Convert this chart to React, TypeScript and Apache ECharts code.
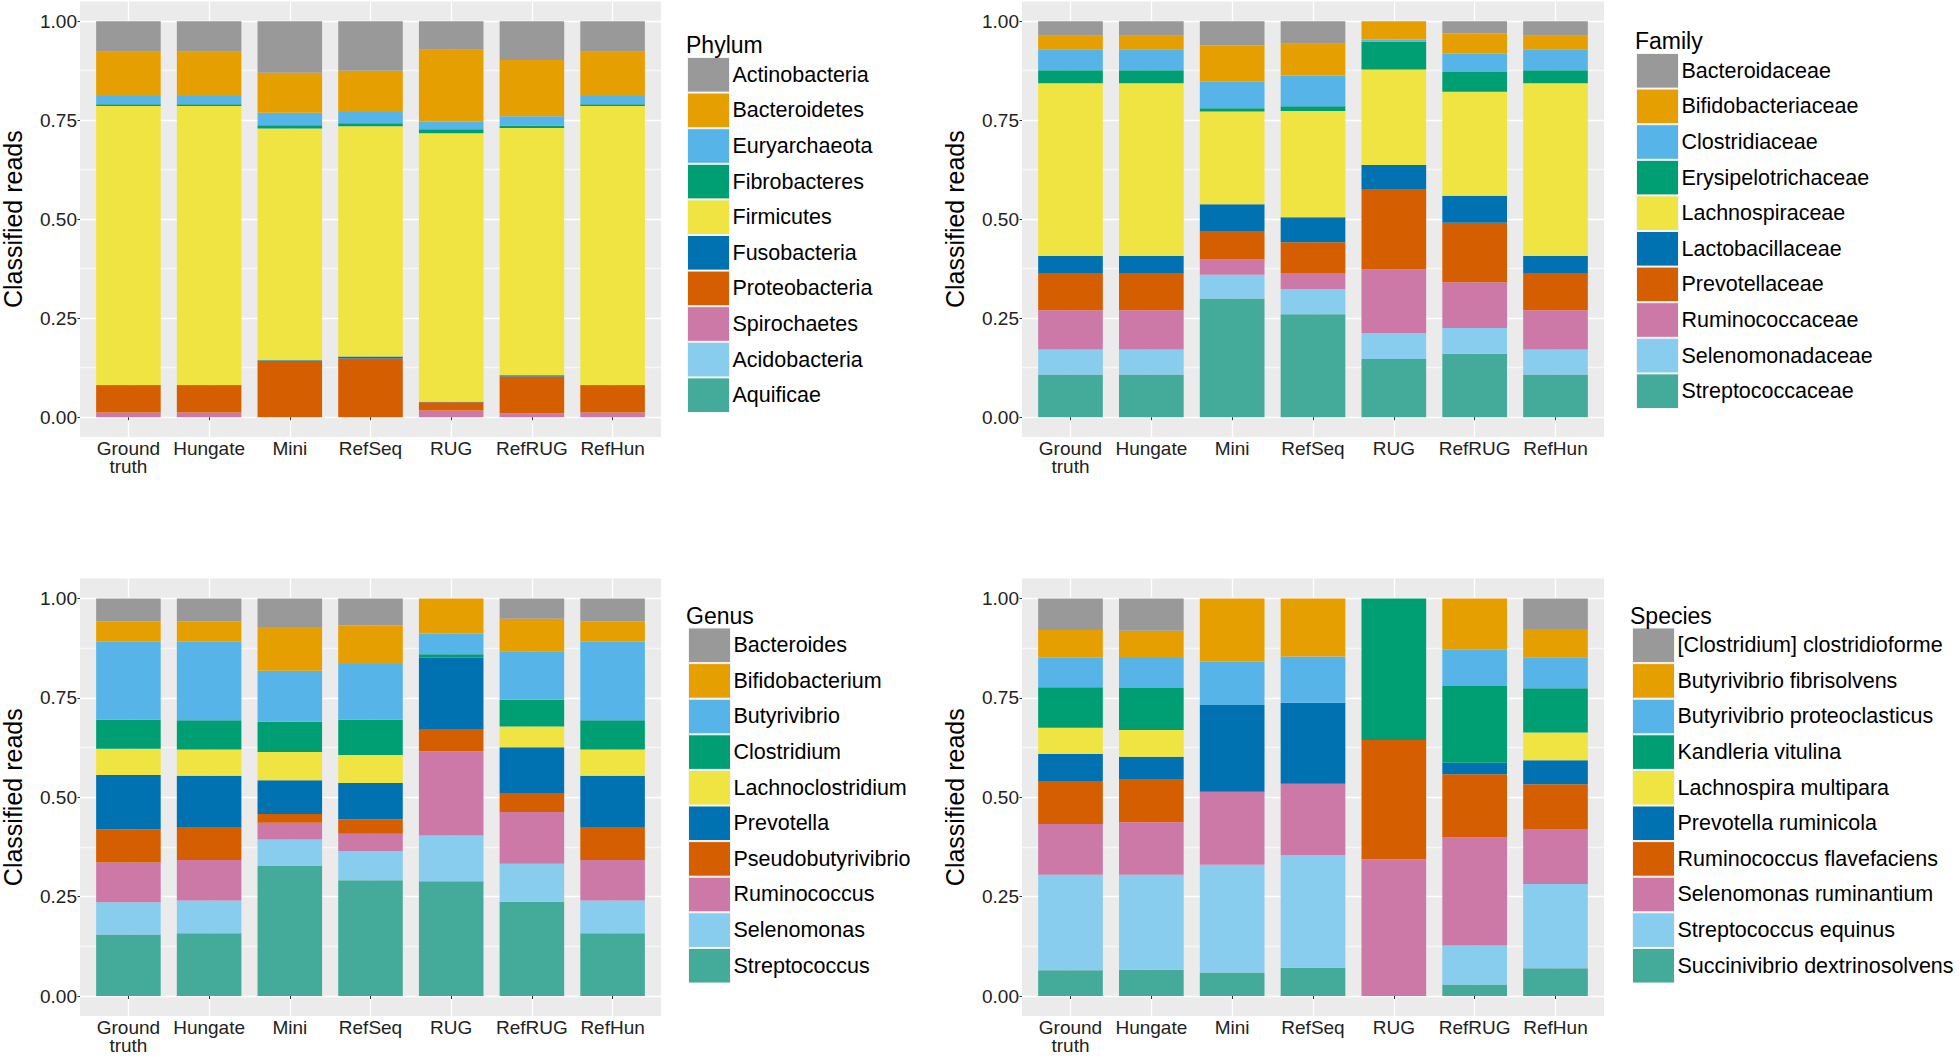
import React, { useEffect, useRef } from "react";
import * as echarts from "echarts";

// ---------- data ----------
const categories = ["Ground\ntruth", "Hungate", "Mini", "RefSeq", "RUG", "RefRUG", "RefHun"];

const palette = ["#999999", "#E69F00", "#56B4E9", "#009E73", "#F0E442", "#0072B2", "#D55E00", "#CC79A7", "#88CCEE", "#44AA99"];

const phylumNames = ["Actinobacteria", "Bacteroidetes", "Euryarchaeota", "Fibrobacteres", "Firmicutes", "Fusobacteria", "Proteobacteria", "Spirochaetes", "Acidobacteria", "Aquificae"];
const phylumValues = [
  [0.077, 0.077, 0.130, 0.125, 0.072, 0.098, 0.077],
  [0.112, 0.112, 0.101, 0.104, 0.182, 0.142, 0.112],
  [0.021, 0.021, 0.032, 0.029, 0.019, 0.024, 0.021],
  [0.004, 0.004, 0.008, 0.007, 0.010, 0.006, 0.004],
  [0.705, 0.705, 0.585, 0.582, 0.678, 0.624, 0.705],
  [0.001, 0.001, 0.004, 0.005, 0.001, 0.003, 0.001],
  [0.068, 0.068, 0.140, 0.148, 0.021, 0.093, 0.068],
  [0.012, 0.012, 0.000, 0.000, 0.017, 0.010, 0.012],
  [0, 0, 0, 0, 0, 0, 0],
  [0, 0, 0, 0, 0, 0, 0],
];

const familyNames = ["Bacteroidaceae", "Bifidobacteriaceae", "Clostridiaceae", "Erysipelotrichaceae", "Lachnospiraceae", "Lactobacillaceae", "Prevotellaceae", "Ruminococcaceae", "Selenomonadaceae", "Streptococcaceae"];
const familyValues = [
  [0.037, 0.037, 0.061, 0.057, 0.000, 0.031, 0.037],
  [0.034, 0.034, 0.092, 0.080, 0.046, 0.051, 0.034],
  [0.053, 0.053, 0.067, 0.078, 0.005, 0.046, 0.053],
  [0.033, 0.033, 0.008, 0.012, 0.071, 0.050, 0.033],
  [0.436, 0.436, 0.234, 0.268, 0.241, 0.263, 0.436],
  [0.045, 0.045, 0.068, 0.063, 0.061, 0.068, 0.045],
  [0.092, 0.092, 0.072, 0.078, 0.203, 0.150, 0.092],
  [0.099, 0.099, 0.038, 0.040, 0.161, 0.116, 0.099],
  [0.063, 0.063, 0.060, 0.064, 0.065, 0.065, 0.063],
  [0.108, 0.108, 0.300, 0.260, 0.147, 0.160, 0.108],
];

const genusNames = ["Bacteroides", "Bifidobacterium", "Butyrivibrio", "Clostridium", "Lachnoclostridium", "Prevotella", "Pseudobutyrivibrio", "Ruminococcus", "Selenomonas", "Streptococcus"];
const genusValues = [
  [0.057, 0.057, 0.072, 0.068, 0.000, 0.051, 0.057],
  [0.052, 0.052, 0.110, 0.097, 0.088, 0.082, 0.052],
  [0.196, 0.197, 0.128, 0.140, 0.052, 0.122, 0.197],
  [0.073, 0.074, 0.076, 0.089, 0.009, 0.067, 0.074],
  [0.066, 0.066, 0.071, 0.070, 0.000, 0.052, 0.066],
  [0.137, 0.129, 0.085, 0.092, 0.181, 0.117, 0.129],
  [0.083, 0.083, 0.022, 0.036, 0.054, 0.046, 0.083],
  [0.100, 0.102, 0.042, 0.044, 0.212, 0.130, 0.102],
  [0.081, 0.082, 0.067, 0.073, 0.115, 0.096, 0.082],
  [0.155, 0.158, 0.327, 0.291, 0.289, 0.237, 0.158],
];

const speciesNames = ["[Clostridium] clostridioforme", "Butyrivibrio fibrisolvens", "Butyrivibrio proteoclasticus", "Kandleria vitulina", "Lachnospira multipara", "Prevotella ruminicola", "Ruminococcus flavefaciens", "Selenomonas ruminantium", "Streptococcus equinus", "Succinivibrio dextrinosolvens"];
const speciesValues = [
  [0.079, 0.081, 0.000, 0.000, 0.000, 0.000, 0.077],
  [0.070, 0.069, 0.159, 0.146, 0.000, 0.128, 0.071],
  [0.074, 0.075, 0.109, 0.116, 0.000, 0.092, 0.078],
  [0.102, 0.106, 0.000, 0.000, 0.356, 0.193, 0.111],
  [0.066, 0.067, 0.000, 0.000, 0.000, 0.000, 0.070],
  [0.070, 0.058, 0.218, 0.204, 0.000, 0.029, 0.060],
  [0.106, 0.107, 0.000, 0.000, 0.300, 0.159, 0.113],
  [0.128, 0.132, 0.184, 0.180, 0.344, 0.272, 0.138],
  [0.240, 0.239, 0.271, 0.283, 0.000, 0.098, 0.212],
  [0.065, 0.066, 0.059, 0.071, 0.000, 0.029, 0.070],
];

// ---------- layout ----------
const FONT = "'Liberation Sans', Arial, Helvetica, sans-serif";
const X_EXPAND = 0.6; // ggplot discrete expansion (category units)
const Y_EXPAND = 0.05; // ggplot continuous expansion (fraction of range)

const panels = [
  { title: "Phylum", names: phylumNames, values: phylumValues, rect: { left: 80, top: 1.4, width: 581, height: 435.6 }, legend: { left: 687, top: 57 }, titlePos: { left: 686, top: 33 } },
  { title: "Family", names: familyNames, values: familyValues, rect: { left: 1022, top: 1.4, width: 582, height: 435.6 }, legend: { left: 1636, top: 53 }, titlePos: { left: 1635, top: 29 } },
  { title: "Genus", names: genusNames, values: genusValues, rect: { left: 80, top: 578.6, width: 581, height: 437.3 }, legend: { left: 688, top: 627.5 }, titlePos: { left: 686, top: 604 } },
  { title: "Species", names: speciesNames, values: speciesValues, rect: { left: 1022, top: 578.6, width: 582, height: 437.3 }, legend: { left: 1632, top: 627.5 }, titlePos: { left: 1630, top: 604 } },
];

const T = "rgba(0,0,0,0)";
const MAJOR = "#FFFFFF";
const MINOR = "rgba(255,255,255,0.6)";

function buildOption() {
  const grid: any[] = [];
  const xAxis: any[] = [];
  const yAxis: any[] = [];
  const series: any[] = [];
  const legend: any[] = [];
  const title: any[] = [];
  const n = categories.length;

  panels.forEach((p, pi) => {
    const r = p.rect;
    // background panel grid (grey + ggplot-style gridlines over expanded range)
    const bgIdx = grid.length;
    grid.push({ ...r, show: true, backgroundColor: "#EBEBEB", borderWidth: 0, containLabel: false, outerBoundsMode: "none" });
    xAxis.push({
      type: "value",
      gridIndex: bgIdx,
      min: -X_EXPAND,
      max: n - 1 + X_EXPAND,
      interval: 0.2,
      axisLine: { show: false },
      axisTick: { show: false },
      axisLabel: { show: false },
      splitLine: { show: true, lineStyle: { color: [T, T, T, MAJOR, T], width: 1.3 } },
    });
    yAxis.push({
      type: "value",
      gridIndex: bgIdx,
      min: -Y_EXPAND,
      max: 1 + Y_EXPAND,
      interval: 0.025,
      axisLine: { show: false },
      axisTick: { show: false },
      axisLabel: { show: false },
      splitLine: { show: true, lineStyle: { color: [T, T, MAJOR, T, T, T, T, MINOR, T, T], width: 1.3 } },
    });

    // data grid: exact category bands, y range 0..1
    const unitX = r.width / (n - 1 + 2 * X_EXPAND);
    const unitY = r.height / (1 + 2 * Y_EXPAND);
    const dLeft = r.left + (X_EXPAND - 0.5) * unitX;
    const dTop = r.top + Y_EXPAND * unitY;
    const gapX = dLeft - r.left;
    const gapY = Y_EXPAND * unitY;
    const dIdx = grid.length;
    grid.push({ left: dLeft, top: dTop, width: unitX * n, height: unitY, show: false, containLabel: false, outerBoundsMode: "none" });
    xAxis.push({
      type: "category",
      gridIndex: dIdx,
      data: categories,
      offset: gapY,
      axisLine: { show: false },
      axisTick: { show: true, alignWithLabel: true, interval: 0, length: 3, lineStyle: { color: "#333", width: 1 } },
      splitLine: { show: false },
      axisLabel: {
        margin: 2,
        fontFamily: FONT,
        fontSize: 19,
        lineHeight: 18.5,
        color: "#222",
        interval: 0,
        align: "center",
      },
    });
    yAxis.push({
      type: "value",
      gridIndex: dIdx,
      min: 0,
      max: 1,
      interval: 0.25,
      offset: gapX,
      name: "Classified reads",
      nameLocation: "middle",
      nameGap: 55,
      nameTextStyle: { fontFamily: FONT, fontSize: 25, color: "#000" },
      axisLine: { show: false },
      axisTick: { show: true, length: 2.5, lineStyle: { color: "#333", width: 1 } },
      splitLine: { show: false },
      axisLabel: {
        margin: 3,
        fontFamily: FONT,
        fontSize: 19,
        color: "#222",
        formatter: (v: number) => v.toFixed(2),
      },
    });

    for (let k = p.names.length - 1; k >= 0; k--) {
      series.push({
        type: "bar",
        name: p.names[k],
        xAxisIndex: dIdx,
        yAxisIndex: dIdx,
        stack: "panel" + pi,
        barCategoryGap: "20%",
        itemStyle: { color: palette[k] },
        emphasis: { disabled: true },
        data: p.values[k],
      });
    }
    legend.push({
      data: p.names,
      orient: "vertical",
      left: p.legend.left,
      top: p.legend.top,
      padding: 0,
      itemGap: 0,
      itemWidth: 42,
      itemHeight: 34.6,
      icon: "rect",
      selectedMode: false,
      itemStyle: { borderColor: "#F4F4F4", borderWidth: 1 },
      textStyle: { fontFamily: FONT, fontSize: 21.5, color: "#000", padding: [0, 0, 0, -2] },
    });
    title.push({
      text: p.title,
      left: p.titlePos.left,
      top: p.titlePos.top,
      padding: 0,
      textStyle: { fontFamily: FONT, fontSize: 23, fontWeight: "normal", color: "#000" },
    });
  });

  return {
    animation: false,
    backgroundColor: "#FFFFFF",
    textStyle: { fontFamily: FONT },
    title,
    grid,
    xAxis,
    yAxis,
    legend,
    series,
  };
}

function Chart() {
  const ref = useRef<HTMLDivElement>(null);
  useEffect(() => {
    if (!ref.current) return;
    const chart = echarts.init(ref.current, null, { renderer: "svg" });
    chart.setOption(buildOption() as any);
    return () => chart.dispose();
  }, []);
  return <div ref={ref} style={{ width: 1959, height: 1056 }} />;
}

export default function App() {
  return (
    <div style={{ position: "absolute", left: 0, top: 0, width: 1959, height: 1056, background: "#fff" }}>
      <Chart />
    </div>
  );
}
